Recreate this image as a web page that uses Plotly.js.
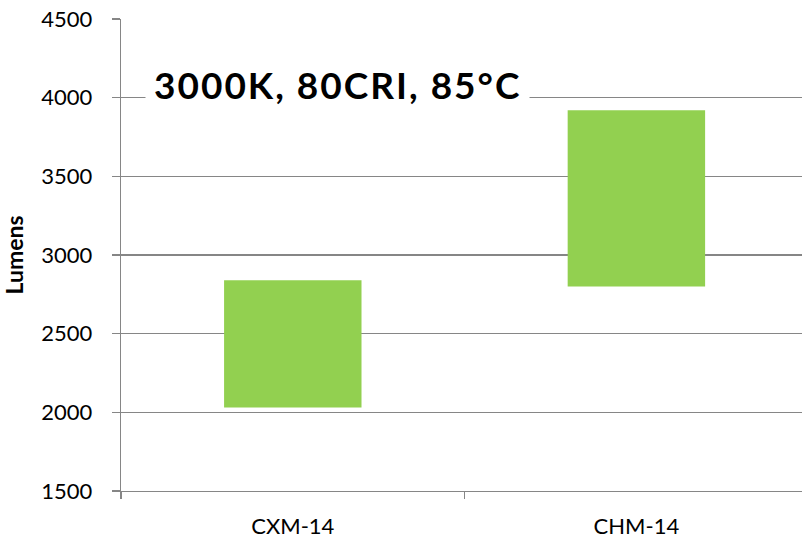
<!DOCTYPE html>
<html><head><meta charset="utf-8">
<script src="https://cdn.plot.ly/plotly-3.0.1.min.js"></script>
<style>html,body{margin:0;padding:0;background:#fff;}#chart{width:802px;height:538px;}
.annotation-text{letter-spacing:2px;}</style>
</head><body><div id="chart"></div>
<script>
const categories = ["CXM-14", "CHM-14"];
const lowValues = [2030, 2800];
const highValues = [2840, 3920];
const chartTitle = "3000K, 80CRI, 85°C";
const yTitle = "Lumens";

const trace = {
  type: "bar",
  x: categories,
  base: lowValues,
  y: highValues.map((h, i) => h - lowValues[i]),
  width: 0.4,
  marker: {color: "#92D050", line: {width: 0}},
  hoverinfo: "none"
};
const font = "Lato, 'Open Sans', sans-serif";
const layout = {
  width: 802, height: 538,
  margin: {l: 121, r: 0, t: 19, b: 47},
  paper_bgcolor: "#fff", plot_bgcolor: "#fff",
  showlegend: false,
  font: {family: font, color: "#000", size: 22},
  xaxis: {
    range: [-0.5, 1.482],
    showgrid: false, showline: true, linecolor: "#868686", linewidth: 1.3,
    ticks: "outside", tickson: "boundaries", ticklen: 7, tickcolor: "#868686", tickwidth: 1.3,
    tickfont: {size: 22, family: font},
    ticklabelstandoff: 15
  },
  yaxis: {
    range: [1500, 4500], dtick: 500, tick0: 1500,
    showgrid: true, gridcolor: "#868686", gridwidth: 1.3,
    showline: true, linecolor: "#868686", linewidth: 1.3,
    ticks: "outside", ticklen: 8, tickcolor: "#868686", tickwidth: 1.3,
    tickfont: {size: 22, family: font},
    ticklabelstandoff: 15,
    zeroline: false,
    title: {text: "<b>" + yTitle + "</b>", font: {size: 23, family: font}, standoff: 12}
  },
  annotations: [{
    text: "<b>" + chartTitle + "</b>",
    xref: "paper", yref: "y", x: 0.318, y: 4085, xanchor: "center", yanchor: "middle",
    showarrow: false, bgcolor: "#fff", borderpad: 8,
    font: {size: 37, family: font, color: "#000"}
  }]
};
Plotly.newPlot("chart", [trace], layout, {displayModeBar: false, staticPlot: true});
</script></body></html>
